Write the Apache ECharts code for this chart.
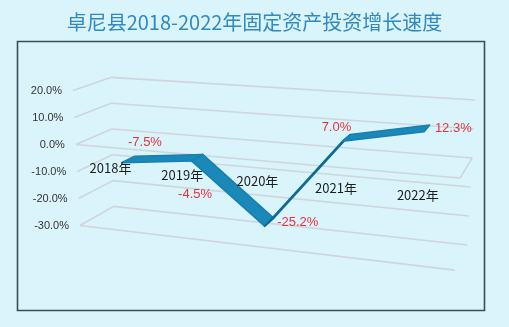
<!DOCTYPE html>
<html>
<head>
<meta charset="utf-8">
<script src="https://cdn.jsdelivr.net/npm/echarts@6/dist/echarts.min.js"></script>
<style>
  html, body { margin: 0; padding: 0; background: #daf4fb; }
  #chart { width: 509px; height: 327px; }
</style>
</head>
<body>
<div id="chart"></div>
<script>
// ---- data ----
const titleText = '卓尼县2018-2022年固定资产投资增长速度';
const years = ['2018年', '2019年', '2020年', '2021年', '2022年'];
const growth = [-7.5, -4.5, -25.2, 7.0, 12.3];
const valueTicks = [-30, -20, -10, 0, 10, 20];
const valueMin = -30;
const valueMax = 20;
const valueStep = 10;

// where each value label sits relative to its point
const labelPlacement = ['topRight', 'bottom', 'right', 'topLeft', 'right'];

// ---- 3D box used to draw the chart in perspective ----
// each corner edge is given at the bottom (f = 0) and the top (f = 1) of the value range
const edgeLF = { x0: 80, dx: -7, y0: 225.5, dy: -135 };     // left, front
const edgeRF = { x0: 454.9, dx: 8.5, y0: 270.1, dy: -153.4 };// right, front
const edgeLB = { x0: 113.6, dx: -3, y0: 206.4, dy: -129 };   // left, back
const edgeRB = { x0: 467.4, dx: 8, y0: 245, dy: -145 };      // right, back
const perspectiveBend = 0.109;
const ribbonFront = 0.31, ribbonBack = 0.69;

function at(edge, f) { return [edge.x0 + edge.dx * f, edge.y0 + edge.dy * f]; }
function lerp(a, b, t) { return [a[0] + (b[0] - a[0]) * t, a[1] + (b[1] - a[1]) * t]; }
// u: position along the category axis (0..1), f: along the value axis (0..1), w: depth (0 front .. 1 back)
function project(u, f, w) {
  const uu = u + perspectiveBend * u * (u - 1);
  const front = lerp(at(edgeLF, f), at(edgeRF, f), uu);
  const back = lerp(at(edgeLB, f), at(edgeRB, f), uu);
  return lerp(front, back, w);
}
// turn a pixel from the (hidden) cartesian grid into axis fractions
function toUnit(params, pt) {
  const cs = params.coordSys;
  return [(pt[0] - cs.x) / cs.width, (cs.y + cs.height - pt[1]) / cs.height];
}

const gridColor = '#cdd6da';
const labelFont = 'Liberation Sans, Arial, sans-serif';
const cjkFont = '"Noto Sans CJK SC", "Noto Sans", sans-serif';

const chart = echarts.init(document.getElementById('chart'), null, { renderer: 'canvas' });

const option = {
  backgroundColor: '#daf4fb',
  animation: false,
  title: {
    text: titleText,
    left: 'center',
    top: 7,
    textStyle: { fontSize: 20, fontWeight: 'normal', color: '#3189c0', fontFamily: cjkFont }
  },
  graphic: [{
    type: 'rect',
    shape: { x: 17.5, y: 41.5, width: 467, height: 269 },
    style: { fill: 'none', stroke: '#34505f', lineWidth: 1.6 },
    z: 0
  }],
  grid: { left: 0, right: 0, top: 0, bottom: 0, show: false },
  xAxis: { type: 'category', data: years, show: false, boundaryGap: true },
  yAxis: { type: 'value', min: valueMin, max: valueMax, interval: valueStep, show: false },
  series: [
    // walls, floor and the category plane
    {
      type: 'custom',
      clip: false,
      z: 1,
      data: valueTicks.map(v => [0, v]),
      renderItem: function (params, api) {
        const v = api.value(1);
        const f = toUnit(params, api.coord([0, v]))[1];
        const seg = (a, b) => ({
          type: 'line',
          shape: { x1: a[0], y1: a[1], x2: b[0], y2: b[1] },
          style: { stroke: gridColor, lineWidth: 1.6 }
        });
        const lf = project(0, f, 0), lb = project(0, f, 1);
        const rf = project(1, f, 0), rb = project(1, f, 1);
        const kids = [seg(lf, lb), seg(lb, rb)];
        if (v === 0) { kids.push(seg(lf, rf), seg(rf, rb)); }
        if (v === valueMin) { kids.push(seg(lf, rf)); }
        return { type: 'group', children: kids };
      }
    },
    // value axis labels
    {
      type: 'custom',
      clip: false,
      z: 3,
      data: valueTicks.map(v => [0, v]),
      renderItem: function (params, api) {
        const v = api.value(1);
        const f = toUnit(params, api.coord([0, v]))[1];
        const p = project(0, f, 0);
        return {
          type: 'text',
          style: {
            x: p[0] - 11, y: p[1], text: v.toFixed(1) + '%',
            textAlign: 'right', textVerticalAlign: 'middle',
            fill: '#333', font: '11px ' + labelFont
          }
        };
      }
    },
    // category labels along the front of the zero plane
    {
      type: 'custom',
      clip: false,
      z: 3,
      data: years.map((y, i) => [i, 0]),
      renderItem: function (params, api) {
        const i = api.value(0);
        const uf = toUnit(params, api.coord([i, 0]));
        const p = project(uf[0], uf[1], 0);
        return {
          type: 'text',
          style: {
            x: p[0], y: p[1] + 21, text: years[i],
            textAlign: 'center', textVerticalAlign: 'middle',
            fill: '#1e1e1e', font: '13px ' + cjkFont
          }
        };
      }
    },
    // the growth ribbon, one segment per pair of years
    {
      type: 'custom',
      clip: false,
      z: 2,
      data: growth.slice(0, -1).map((v, i) => [i, v, growth[i + 1]]),
      renderItem: function (params, api) {
        const i = api.value(0);
        const a = toUnit(params, api.coord([i, api.value(1)]));
        const b = toUnit(params, api.coord([i + 1, api.value(2)]));
        const A = project(a[0], a[1], ribbonFront), B = project(b[0], b[1], ribbonFront);
        const C = project(b[0], b[1], ribbonBack), D = project(a[0], a[1], ribbonBack);
        // top face is visible when the back edge sits above the front edge
        const cross = (B[0] - A[0]) * (D[1] - A[1]) - (B[1] - A[1]) * (D[0] - A[0]);
        const topSide = cross < 0;
        return {
          type: 'polygon',
          shape: { points: [A, B, C, D] },
          style: {
            fill: topSide ? '#1a88b8' : '#0f6a94',
            stroke: topSide ? '#1780ae' : '#0f6a94', lineWidth: 1.6, lineJoin: 'round'
          }
        };
      }
    },
    // value labels
    {
      type: 'custom',
      clip: false,
      z: 4,
      data: growth.map((v, i) => [i, v]),
      renderItem: function (params, api) {
        const i = api.value(0);
        const v = api.value(1);
        const uf = toUnit(params, api.coord([i, v]));
        const p = project(uf[0], uf[1], 0.5);
        let x = p[0], y = p[1], align = 'center';
        switch (labelPlacement[i]) {
          case 'topRight': x += 17; y -= 17; break;
          case 'topLeft': x -= 10; y -= 10; break;
          case 'bottom': x -= 2; y += 37; break;
          case 'right': x += 8; align = 'left'; break;
        }
        return {
          type: 'text',
          style: {
            x: x, y: y, text: v.toFixed(1) + '%',
            textAlign: align, textVerticalAlign: 'middle',
            fill: '#e5323f', font: '13px ' + labelFont
          }
        };
      }
    }
  ]
};

chart.setOption(option);
</script>
</body>
</html>
